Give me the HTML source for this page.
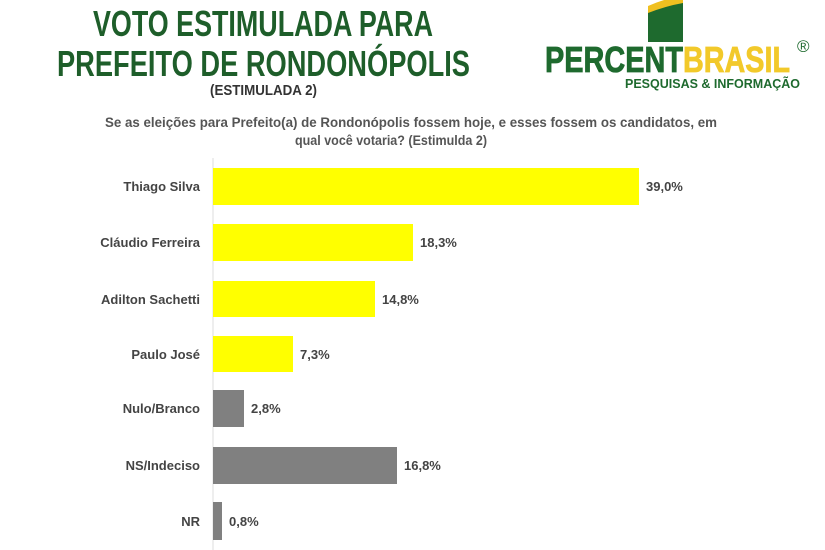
<!DOCTYPE html>
<html><head><meta charset="utf-8"><style>body{margin:0;background:#fff}svg{display:block}</style></head>
<body>
<svg width="825" height="550" xmlns="http://www.w3.org/2000/svg" font-family="Liberation Sans, Arial, sans-serif" font-weight="bold">
<rect width="825" height="550" fill="#fff"/>
<text x="93" y="36" font-size="36" fill="#1e5e2a" textLength="340" lengthAdjust="spacingAndGlyphs">VOTO ESTIMULADA PARA</text>
<text x="57" y="76" font-size="36" fill="#1e5e2a" textLength="413" lengthAdjust="spacingAndGlyphs">PREFEITO DE  RONDONÓPOLIS</text>
<text x="210" y="95" font-size="15" fill="#333" textLength="107" lengthAdjust="spacingAndGlyphs">(ESTIMULADA 2)</text>
<text x="105" y="127" font-size="13.5" fill="#555" textLength="612" lengthAdjust="spacingAndGlyphs">Se as eleições para Prefeito(a) de Rondonópolis fossem hoje, e esses fossem os candidatos, em</text>
<text x="295" y="145" font-size="13.5" fill="#555" textLength="192" lengthAdjust="spacingAndGlyphs">qual você votaria? (Estimulda 2)</text>
<path d="M648 10 Q666 2 683 0 L683 42 L648 42 Z" fill="#1e6a2e"/>
<path d="M648 6 Q666 -2 683 -4 L683 3 Q666 6 648 13 Z" fill="#f0c020"/>
<text x="545" y="72" font-size="36" fill="#1e6a2e" stroke="#1e6a2e" stroke-width="0.8" textLength="138" lengthAdjust="spacingAndGlyphs">PERCENT</text>
<text x="683" y="72" font-size="36" fill="#f2c92a" stroke="#f2c92a" stroke-width="0.8" textLength="107" lengthAdjust="spacingAndGlyphs">BRASIL</text>
<text x="797" y="52" font-size="17" fill="#1e6a2e" font-weight="normal">®</text>
<text x="625" y="88" font-size="13" fill="#1e6a2e" textLength="175" lengthAdjust="spacingAndGlyphs">PESQUISAS &amp; INFORMAÇÃO</text>
<line x1="213" y1="158" x2="213" y2="550" stroke="#ddd" stroke-width="1"/>
<g font-size="13" fill="#444" text-anchor="end">
<text x="200" y="191">Thiago Silva</text>
<text x="200" y="247">Cláudio Ferreira</text>
<text x="200" y="304">Adilton Sachetti</text>
<text x="200" y="359">Paulo José</text>
<text x="200" y="413">Nulo/Branco</text>
<text x="200" y="470">NS/Indeciso</text>
<text x="200" y="526">NR</text>
</g>
<rect x="213" y="168" width="426" height="37" fill="#ffff00"/>
<rect x="213" y="224" width="200" height="37" fill="#ffff00"/>
<rect x="213" y="281" width="162" height="36" fill="#ffff00"/>
<rect x="213" y="336" width="80" height="36" fill="#ffff00"/>
<rect x="213" y="390" width="31" height="37" fill="#808080"/>
<rect x="213" y="447" width="184" height="37" fill="#808080"/>
<rect x="213" y="502" width="9" height="38" fill="#808080"/>
<g font-size="13" fill="#444">
<text x="646" y="191">39,0%</text>
<text x="420" y="247">18,3%</text>
<text x="382" y="304">14,8%</text>
<text x="300" y="359">7,3%</text>
<text x="251" y="413">2,8%</text>
<text x="404" y="470">16,8%</text>
<text x="229" y="526">0,8%</text>
</g>
</svg>
</body></html>
